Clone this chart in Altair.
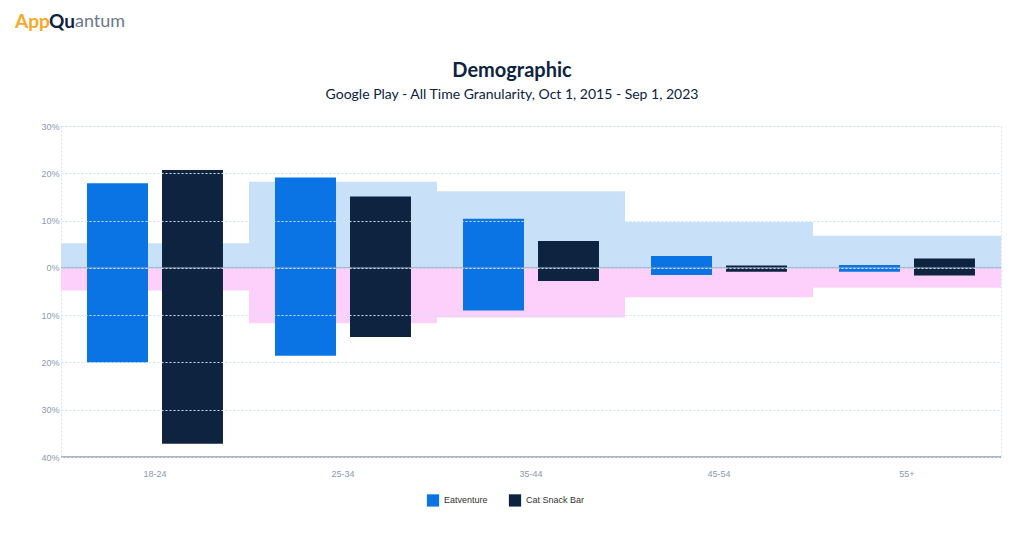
"""Demographic split by age group for two games, drawn with Altair."""

import altair as alt
import pandas as pd

AGES = ["18-24", "25-34", "35-44", "45-54", "55+"]
SERIES = ["Eatventure", "Cat Snack Bar"]

# share of audience (percent), upper = one gender, lower = the other
EAT_UP = [17.9, 19.1, 10.4, 2.5, 0.6]
EAT_DOWN = [20.0, 18.6, 9.0, 1.5, 0.8]
CAT_UP = [20.7, 15.1, 5.7, 0.5, 2.0]
CAT_DOWN = [37.2, 14.6, 2.8, 0.8, 1.6]
# market benchmark shown as background bands
MARKET_UP = [5.2, 18.2, 16.2, 9.7, 6.8]
MARKET_DOWN = [4.8, 11.7, 10.5, 6.2, 4.2]

TITLE = "Demographic"
SUBTITLE = "Google Play - All Time Granularity, Oct 1, 2015 - Sep 1, 2023"

bars = pd.DataFrame(
    [
        {"age": a, "app": SERIES[0], "lo": -d, "hi": u}
        for a, u, d in zip(AGES, EAT_UP, EAT_DOWN)
    ]
    + [
        {"age": a, "app": SERIES[1], "lo": -d, "hi": u}
        for a, u, d in zip(AGES, CAT_UP, CAT_DOWN)
    ]
)
market = pd.DataFrame(
    [{"age": a, "lo": 0, "hi": u, "side": "up"} for a, u in zip(AGES, MARKET_UP)]
    + [{"age": a, "lo": -d, "hi": 0, "side": "down"} for a, d in zip(AGES, MARKET_DOWN)]
)

x_scale = alt.Scale(domain=AGES, paddingInner=0, paddingOuter=0)
y_scale = alt.Scale(domain=[-40, 30], nice=False)
y_axis = alt.Axis(
    values=list(range(-40, 31, 10)),
    labelExpr="abs(datum.value) + '%'",
    title=None,
    labelColor="#8A9AB0",
    labelFontSize=9,
    gridColor="#CFE3F0",
    gridDash=[2, 2],
    domain=False,
    ticks=False,
    zindex=1,
)

bg = (
    alt.Chart(market)
    .mark_bar(opacity=1)
    .encode(
        x=alt.X("age:N", scale=x_scale, sort=AGES,
                axis=alt.Axis(title=None, labelAngle=0, ticks=False, domain=False,
                              labelColor="#8A9AB0", labelFontSize=9, labelPadding=12)),
        y=alt.Y("lo:Q", scale=y_scale, axis=y_axis),
        y2="hi:Q",
        color=alt.Color("side:N", scale=alt.Scale(domain=["up", "down"],
                        range=["#C8E0F8", "#FDD0FB"]), legend=None),
    )
)

fg = (
    alt.Chart(bars)
    .mark_bar()
    .encode(
        x=alt.X("age:N", scale=x_scale, sort=AGES),
        xOffset=alt.XOffset("app:N", sort=SERIES,
                            scale=alt.Scale(paddingInner=0.187, paddingOuter=0.347)),
        y=alt.Y("lo:Q", scale=y_scale),
        y2="hi:Q",
        fill=alt.Fill("app:N", sort=SERIES,
                      scale=alt.Scale(domain=SERIES, range=["#0A74E4", "#0D2340"]),
                      legend=alt.Legend(title=None, orient="none", legendX=365,
                                        legendY=367, direction="horizontal",
                                        symbolType="square", symbolSize=150,
                                        labelFontSize=9, labelColor="#333",
                                        columnPadding=20)),
    )
)

zero = alt.Chart(pd.DataFrame({"v": [0]})).mark_rule(color="#8FA3BA", strokeWidth=1).encode(
    y=alt.Y("v:Q", scale=y_scale))
bottom = alt.Chart(pd.DataFrame({"v": [-40]})).mark_rule(color="#5A7088", strokeWidth=1.2).encode(
    y=alt.Y("v:Q", scale=y_scale))


def label(text, x, y, size, color, weight="normal", align="center"):
    return alt.Chart(pd.DataFrame({"t": [text]})).mark_text(
        font="Lato", fontWeight=weight, fontSize=size, color=color, align=align
    ).encode(text="t:N", x=alt.value(x), y=alt.value(y))


title = label(TITLE, 451, -55, 20, "#0D2340", "bold")
subtitle = label(SUBTITLE, 451, -31, 14, "#0D2340")
logo_app = label("App", -46, -104, 19, "#F7A928", "bold", "left")
logo_qu = label("Qu", -12, -104, 19, "#0D2340", "bold", "left")
logo_rest = label("antum", 14, -104, 18, "#6B7A8C", "normal", "left")

chart = (
    alt.layer(bg, fg, zero, bottom, title, subtitle, logo_app, logo_qu, logo_rest)
    .resolve_scale(color="independent")
    .properties(width=940, height=331, background="white",
                padding={"left": 53, "top": 118, "right": 15, "bottom": 70},
                autosize=alt.AutoSizeParams(type="none"))
    .configure_view(stroke="#CFE3F0", strokeDash=[2, 2])
)

chart.save("out.html", embed_options={"renderer": "svg", "actions": False})
